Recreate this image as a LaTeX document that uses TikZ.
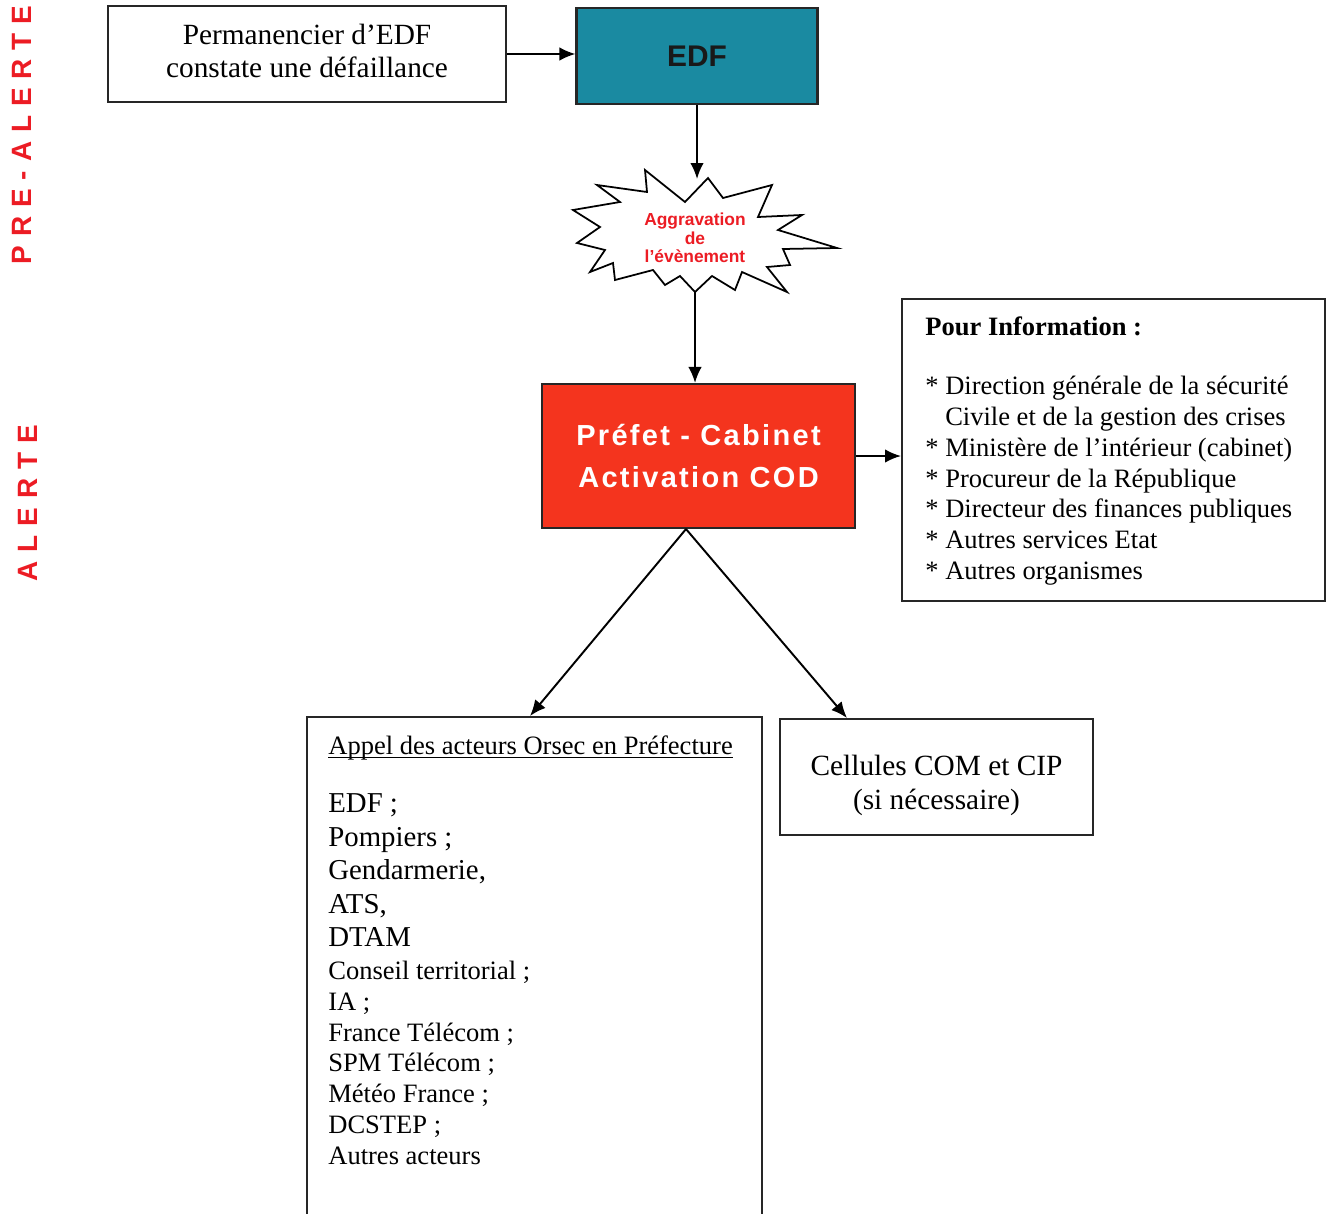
\documentclass[tikz,border=0pt]{standalone}
\usepackage{fontspec}
\setmainfont{Liberation Serif}
\newfontfamily\arialfont{Liberation Sans}
\usetikzlibrary{arrows.meta}
\definecolor{edfteal}{RGB}{26,138,161}
\definecolor{prefetred}{RGB}{244,52,30}
\definecolor{alertred}{RGB}{236,28,36}
\newcommand\soulignetitre[1]{\setbox0\hbox{#1}\rlap{\rule[-2.4pt]{\wd0}{0.7pt}}\box0}
\newcommand\grandeligne{\fontsize{16.4}{18.7}\selectfont}
\begin{document}
\begin{tikzpicture}[x=0.02cm,y=-0.02cm,
    box/.style={draw=black!85,line width=1.2pt,inner sep=0pt},
    arr/.style={line width=1.1pt,-{Latex[length=0.32cm,width=0.27cm]}},
    phase/.style={rotate=90,text=alertred,
      font=\arialfont\bfseries\fontsize{15.9}{18}\selectfont\addfontfeature{LetterSpace=32}}]
  \useasboundingbox (0,0) rectangle (1331,1213);
  % phases
  \node[phase] (prealerte) at (22,135) {PRE-ALERTE};
  \node[phase] (alerte) at (28,503) {ALERTE};
  % pre-alerte
  \node[box,minimum width=7.96cm,minimum height=1.92cm] (perm) at (307,54) {};
  \node[align=center,font=\fontsize{16.7}{19.3}\selectfont] (permtext) at (307,51)
    {Permanencier d’EDF\\constate une défaillance};
  \node[box,fill=edfteal,minimum width=4.82cm,minimum height=1.92cm,text=black!90,
    font=\arialfont\bfseries\fontsize{17}{20}\selectfont] (edf) at (697,56) {EDF};
  \draw[line width=1pt,fill=white] (645,170) -- (685,202) -- (708,178) -- (723,198)
    -- (772,185) -- (758,217) -- (802,215) -- (778,230) -- (837,248) -- (783,249)
    -- (790,265) -- (767,267) -- (787,292) -- (742,272) -- (735,290) -- (712,276)
    -- (695,292) -- (680,276) -- (665,285) -- (653,270) -- (615,280) -- (613,263)
    -- (590,272) -- (605,250) -- (577,243) -- (600,227) -- (573,210) -- (620,202)
    -- (597,185) -- (647,192) -- cycle;
  \node[align=center,text=alertred,inner sep=0pt,
    font=\arialfont\bfseries\fontsize{9.9}{10.6}\selectfont] (aggr) at (695,238)
    {Aggravation\\de\\l’évènement};
  \coordinate (burst top) at (697,179);
  \coordinate (burst bottom) at (695,291);
  % alerte
  \node[box,fill=prefetred,minimum width=6.26cm,minimum height=2.88cm,align=center,text=white,
    font=\arialfont\bfseries\fontsize{16.5}{23.8}\selectfont\addfontfeature{LetterSpace=8}]
    (prefet) at (698.5,456) {Préfet - Cabinet\\Activation COD};
  \node[box,minimum width=8.46cm,minimum height=6.04cm] (info) at (1113.5,450) {};
  \node[anchor=north west,align=left,inner sep=0pt,font=\fontsize{15.1}{17.5}\selectfont]
    (infotext) at (925,316)
    {\textbf{Pour Information :}\\[16.5pt]
     * Direction générale de la sécurité\\
     \phantom{*} Civile et de la gestion des crises\\
     * Ministère de l’intérieur (cabinet)\\
     * Procureur de la République\\
     * Directeur des finances publiques\\
     * Autres services Etat\\
     * Autres organismes};
  \node[box,minimum width=9.1cm,minimum height=10.26cm] (appel) at (534.5,973.5) {};
  \node[anchor=north west,align=left,inner sep=0pt,font=\fontsize{15.1}{17.5}\selectfont]
    (appeltext) at (328,735)
    {\soulignetitre{Appel des acteurs Orsec en Préfecture}\\[16pt]
     \grandeligne EDF ;\\[1.55pt] \grandeligne Pompiers ;\\[1.55pt]
     \grandeligne Gendarmerie,\\[1.55pt] \grandeligne ATS,\\[1.55pt] \grandeligne DTAM\\[1.2pt]
     Conseil territorial ;\\ IA ;\\ France Télécom ;\\
     SPM Télécom ;\\ Météo France ;\\ DCSTEP ;\\ Autres acteurs};
  \node[box,minimum width=6.26cm,minimum height=2.32cm] (cellules) at (936.5,777) {};
  \node[align=center,font=\fontsize{16.7}{19.3}\selectfont] (cellulestext) at (936.5,785)
    {Cellules COM et CIP\\(si nécessaire)};
  % fleches
  \draw[arr] (perm.east) -- (perm.east -| edf.west);
  \draw[arr] (edf.south) -- (burst top);
  \draw[arr] (burst bottom) -- (burst bottom |- prefet.north);
  \draw[arr] (prefet.east) -- (prefet.east -| info.west);
  \draw[arr] ([xshift=-0.25cm]prefet.south) -- ([xshift=-0.09cm]appel.north);
  \draw[arr] ([xshift=-0.25cm]prefet.south) -- ([xshift=1.36cm]cellules.north west);
\end{tikzpicture}
\end{document}
